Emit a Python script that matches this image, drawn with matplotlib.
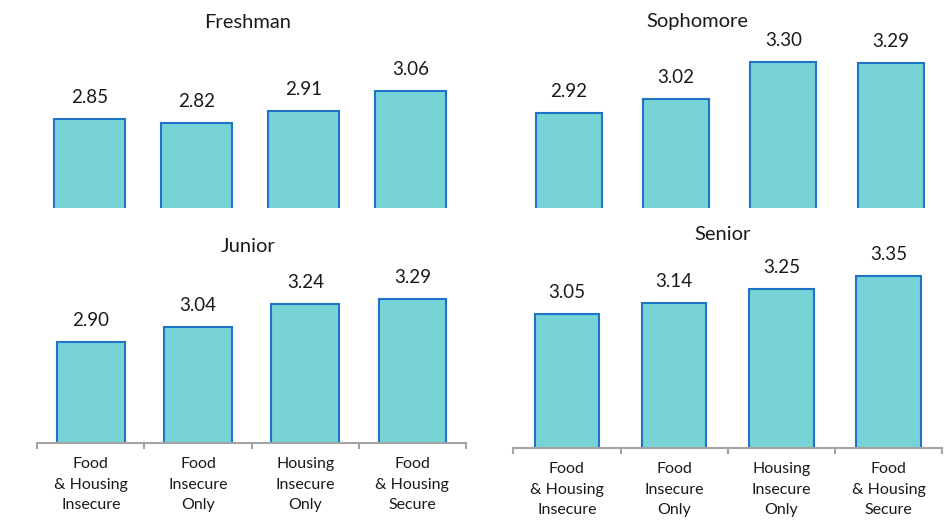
import matplotlib
matplotlib.use("Agg")
import matplotlib.pyplot as plt

plt.rcParams['font.family'] = ['Lato', 'DejaVu Sans']

categories = ["Food\n& Housing\nInsecure", "Food\nInsecure\nOnly",
              "Housing\nInsecure\nOnly", "Food\n& Housing\nSecure"]
freshman = [2.85, 2.82, 2.91, 3.06]
sophomore = [2.92, 3.02, 3.30, 3.29]
junior = [2.90, 3.04, 3.24, 3.29]
senior = [3.05, 3.14, 3.25, 3.35]
titles = ["Freshman", "Sophomore", "Junior", "Senior"]

W, H = 953, 522
fig = plt.figure(figsize=(W / 100, H / 100), dpi=100)

FILL = "#77D3D5"
EDGE = "#1E74C6"
AXIS = "#A3A3A3"
TXT = "#1A1A1A"

# panel layout in pixels: left, right, top, bottom, ylim, bar width, title pos, show axis
panels = [
    (freshman, 35.6, 464.4, 40, 208, (2.186, 3.440), 0.66, (248, 22), False),
    (sophomore, 515.1, 944.3, 40, 208, (2.21, 3.464), 0.615, (697, 22), False),
    (junior, 37.3, 466.0, 260, 442.7, (2.0, 3.639), 0.63, (248, 247), True),
    (senior, 513.3, 942.3, 250, 447.7, (2.0, 3.557), 0.60, (723, 235), True),
]

for (vals, l, r, t, b, yl, bw, tpos, show_axis), title in zip(panels, titles):
    ax = fig.add_axes([l / W, 1 - b / H, (r - l) / W, (b - t) / H])
    x = list(range(len(vals)))
    ax.bar(x, vals, width=bw, color=FILL, edgecolor=EDGE, linewidth=1.5, zorder=2)
    for xi, v in zip(x, vals):
        ax.annotate(f"{v:.2f}", (xi, v), xytext=(0, 15.5), textcoords="offset points",
                    ha="center", va="center", fontsize=13.5, color=TXT)
    ax.set_xlim(-0.5, len(vals) - 0.5)
    ax.set_ylim(*yl)
    ax.set_yticks([])
    for s in ["top", "right", "left"]:
        ax.spines[s].set_visible(False)
    if show_axis:
        ax.spines["bottom"].set_color(AXIS)
        ax.spines["bottom"].set_linewidth(1.5)
        ax.spines["bottom"].set_zorder(3)
        ax.set_xticks([i - 0.5 for i in range(len(vals) + 1)])
        ax.set_xticklabels([])
        ax.tick_params(axis="x", which="major", length=4, width=1.5, color=AXIS, direction="out")
        ax.set_xticks(x, minor=True)
        ax.set_xticklabels(categories, minor=True, fontsize=11.5, color=TXT, linespacing=1.58)
        ax.tick_params(axis="x", which="minor", length=0, pad=10.5)
    else:
        ax.spines["bottom"].set_visible(False)
        ax.set_xticks([])
    fig.text(tpos[0] / W, 1 - tpos[1] / H, title, ha="center", va="center",
             fontsize=14.5, color=TXT)

fig.savefig("out.png", dpi=100)
